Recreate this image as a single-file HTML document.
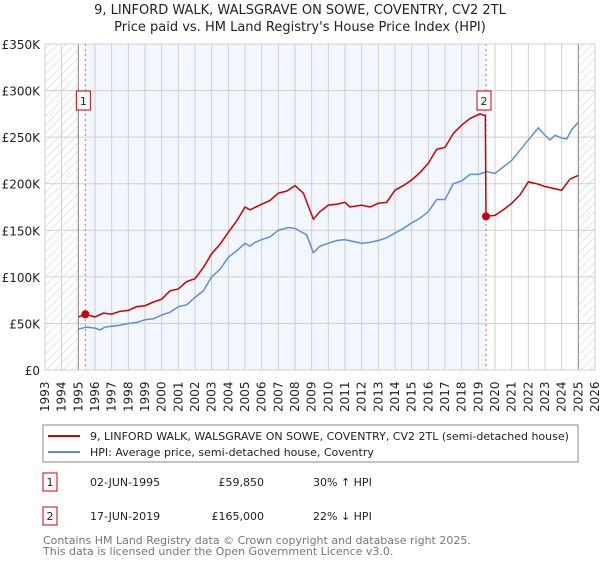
<!DOCTYPE html>
<html><head><meta charset="utf-8"><style>
body{margin:0;background:#fff;font-family:"Liberation Sans","DejaVu Sans",sans-serif;}
svg text{font-family:"DejaVu Sans","Liberation Sans",sans-serif;}
</style></head><body>
<svg id="c" width="600" height="560" xmlns="http://www.w3.org/2000/svg">
<defs><pattern id="hatch" width="6" height="6" patternUnits="userSpaceOnUse" patternTransform="rotate(45)"><line x1="0" y1="0" x2="0" y2="6" stroke="#ccc" stroke-width="1"/></pattern></defs>
<text x="300" y="14" text-anchor="middle" font-size="13" fill="#222">9, LINFORD WALK, WALSGRAVE ON SOWE, COVENTRY, CV2 2TL</text>
<text x="300" y="31" text-anchor="middle" font-size="13" fill="#222">Price paid vs. HM Land Registry's House Price Index (HPI)</text>
<g id="plot"></g>
<rect x="43" y="425" width="535" height="37" fill="#fff" stroke="#888"/>
<line x1="48" y1="436" x2="80" y2="436" stroke="#cc0000" stroke-width="2"/>
<text x="90" y="440" font-size="11" fill="#222">9, LINFORD WALK, WALSGRAVE ON SOWE, COVENTRY, CV2 2TL (semi-detached house)</text>
<line x1="48" y1="452" x2="80" y2="452" stroke="#5b8fd4" stroke-width="2"/>
<text x="90" y="456" font-size="11" fill="#222">HPI: Average price, semi-detached house, Coventry</text>
<g font-size="11" fill="#222">
<rect x="43" y="473" width="14" height="18" fill="#fff" stroke="#cc0000"/><text x="50" y="486" text-anchor="middle">1</text>
<text x="90" y="486">02-JUN-1995</text><text x="264" y="486" text-anchor="end">£59,850</text><text x="313" y="486">30% ↑ HPI</text></g>
<g font-size="11" fill="#222">
<rect x="43" y="507" width="14" height="18" fill="#fff" stroke="#cc0000"/><text x="50" y="520" text-anchor="middle">2</text>
<text x="90" y="520">17-JUN-2019</text><text x="264" y="520" text-anchor="end">£165,000</text><text x="313" y="520">22% ↓ HPI</text></g>
<text x="43" y="544" font-size="11" fill="#777">Contains HM Land Registry data © Crown copyright and database right 2025.</text>
<text x="43" y="555" font-size="11" fill="#777">This data is licensed under the Open Government Licence v3.0.</text>
</svg>
<script>
const yTicks=[0,50,100,150,200,250,300,350];
const yTickLabels=["£0","£50K","£100K","£150K","£200K","£250K","£300K","£350K"];
const years=[1993,1994,1995,1996,1997,1998,1999,2000,2001,2002,2003,2004,2005,2006,2007,2008,2009,2010,2011,2012,2013,2014,2015,2016,2017,2018,2019,2020,2021,2022,2023,2024,2025,2026];
const hpiT=[1995.0,1995.5,1996.0,1996.3,1996.6,1997.0,1997.5,1998.0,1998.5,1999.0,1999.5,2000.0,2000.5,2001.0,2001.5,2002.0,2002.5,2003.0,2003.5,2004.0,2004.5,2005.0,2005.3,2005.6,2006.0,2006.5,2007.0,2007.6,2008.0,2008.4,2008.7,2009.1,2009.5,2010.0,2010.5,2011.0,2011.5,2012.0,2012.5,2013.0,2013.5,2014.0,2014.5,2015.0,2015.5,2016.0,2016.5,2017.0,2017.5,2018.0,2018.5,2019.0,2019.5,2020.0,2020.5,2021.0,2021.5,2022.0,2022.6,2023.0,2023.3,2023.6,2024.0,2024.3,2024.6,2025.0];
const hpiV=[44,46,45,43,46,47,48,50,51,54,55,59,62,68,70,78,85,100,108,121,128,136,133,137,140,143,150,153,152,148,145,126,133,136,139,140,138,136,137,139,142,147,152,158,163,170,183,183,200,203,210,210,213,211,218,225,236,247,260,252,247,252,249,248,258,266];
const saleT=[1995.42,2019.46];
const saleV=[59.85,165];
const redT=[1995.0,1995.42,1996.0,1996.5,1997.0,1997.5,1998.0,1998.5,1999.0,1999.5,2000.0,2000.5,2001.0,2001.5,2002.0,2002.5,2003.0,2003.5,2004.0,2004.5,2005.0,2005.3,2006.0,2006.5,2007.0,2007.5,2008.0,2008.5,2009.1,2009.5,2010.0,2010.5,2011.0,2011.3,2012.0,2012.5,2013.0,2013.5,2014.0,2014.5,2015.0,2015.5,2016.0,2016.5,2017.0,2017.5,2018.0,2018.5,2019.1,2019.42,2019.46,2020.0,2020.5,2021.0,2021.5,2022.0,2022.5,2023.0,2023.5,2024.0,2024.5,2025.0];
const redV=[57,59.85,57,61,60,63,64,68,69,73,76,85,87,95,98,110,125,135,148,160,175,172,178,182,190,192,198,190,162,170,177,178,180,175,177,175,179,180,193,198,204,212,222,237,239,254,263,270,275,273,165,166,172,179,188,202,200,197,195,193,205,209];
const X=t=>45+(t-1993)*(550/33);
const Y=v=>370-v*(326/350);
const NS="http://www.w3.org/2000/svg";
const g=document.getElementById('plot');
function mk(tag,attrs,parent){const e=document.createElementNS(NS,tag);for(const k in attrs)e.setAttribute(k,attrs[k]);(parent||g).appendChild(e);return e;}
mk('rect',{x:45,y:44,width:550,height:326,fill:'#fff'});
let sh=mk('rect',{x:X(saleT[0]),y:44,width:X(saleT[1])-X(saleT[0]),height:326,fill:'#f2f6fd'});


mk('rect',{x:45,y:44,width:X(1995)-45,height:326,fill:'url(#hatch)'});
mk('rect',{x:X(2025),y:44,width:595-X(2025),height:326,fill:'url(#hatch)'});
years.forEach(y=>{
  const l=mk('line',{x1:X(y),y1:44,x2:X(y),y2:370,stroke:'#cfcfcf','stroke-width':1});
  
  
  const t=mk('text',{transform:`translate(${X(y)+4},${412}) rotate(-90)`,'font-size':12,fill:'#222'});
  t.textContent=y;
  
  
});
yTicks.forEach((v,i)=>{
  const l=mk('line',{x1:45,y1:Y(v),x2:595,y2:Y(v),stroke:'#cfcfcf','stroke-width':1});
  
  
  const t=mk('text',{x:40,y:Y(v)+5,'text-anchor':'end','font-size':12,fill:'#222'});
  t.textContent=yTickLabels[i];
  
  
});
mk('line',{x1:X(1995),y1:44,x2:X(1995),y2:370,stroke:'#888'});
mk('line',{x1:X(2025),y1:44,x2:X(2025),y2:370,stroke:'#888'});
saleT.forEach((t,i)=>{
  const l=mk('line',{x1:X(t),y1:44,x2:X(t),y2:370,stroke:'#e06060','stroke-dasharray':'2,3'});
  
  
});
const hp=mk('polyline',{points:hpiT.map((t,i)=>X(t)+','+Y(hpiV[i])).join(' '),fill:'none',stroke:'#5b8fd4','stroke-width':1.5});


const rp=mk('polyline',{points:redT.map((t,i)=>X(t)+','+Y(redV[i])).join(' '),fill:'none',stroke:'#cc0000','stroke-width':1.5});


saleT.forEach((t,i)=>{
  const c=mk('circle',{cx:X(t),cy:Y(saleV[i]),r:4,fill:'#cc0000'});
  
  
  const bx=X(t)-8;
  const r=mk('rect',{x:bx-1,y:91,width:14,height:19,fill:'#fff',stroke:'#cc0000'});
  
  
  const tx=mk('text',{x:bx+6,y:105,'text-anchor':'middle','font-size':11,fill:'#222'});
  tx.textContent=String(i+1);
  
  
});
mk('rect',{x:45,y:44,width:550,height:326,fill:'none',stroke:'#cfcfcf'});
</script>
</body></html>
